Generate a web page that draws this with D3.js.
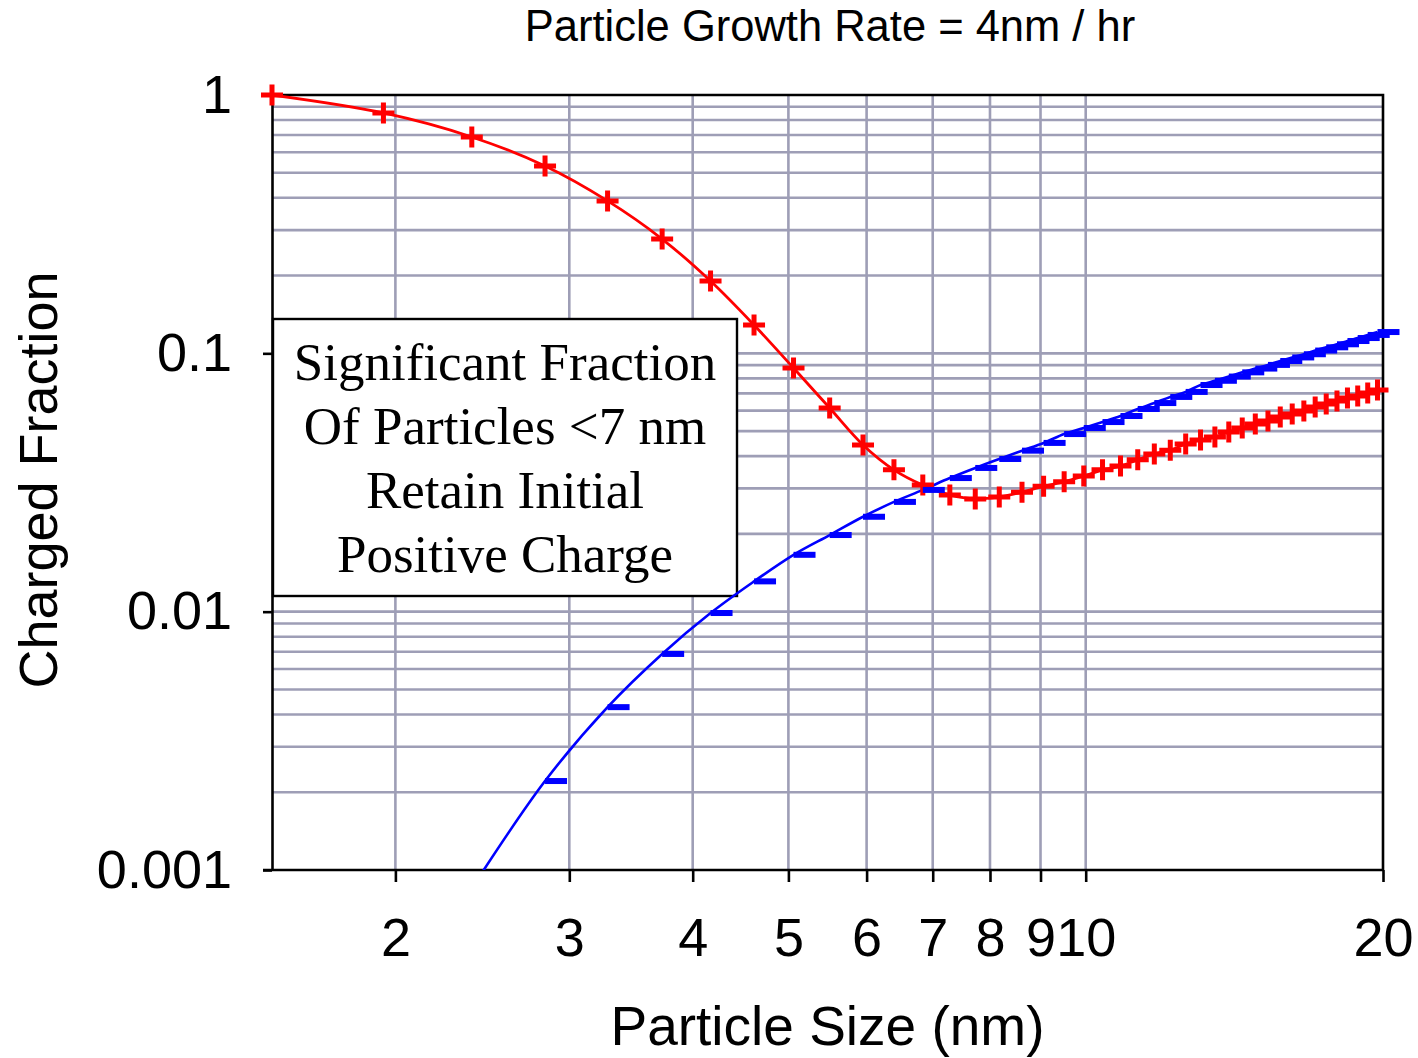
<!DOCTYPE html>
<html>
<head>
<meta charset="utf-8">
<script src="https://cdn.jsdelivr.net/npm/d3@7"></script>
<style>
  body { margin: 0; background: #fff; }
  svg text { font-family: "Liberation Sans", Arial, sans-serif; fill: #000; }
</style>
</head>
<body>
<svg id="chart" width="1418" height="1058"></svg>
<script>
// data
const sizes = [1.5, 1.945, 2.39, 2.835, 3.28, 3.725, 4.17, 4.615, 5.06, 5.505,
               5.95, 6.395, 6.84, 7.285, 7.73, 8.175, 8.62, 9.065, 9.51, 9.955,
               10.4, 10.845, 11.29, 11.735, 12.18, 12.625, 13.07, 13.515, 13.96, 14.405,
               14.85, 15.295, 15.74, 16.185, 16.63, 17.075, 17.52, 17.965, 18.41, 18.855,
               19.3, 19.745];
const retainedFraction = [1.0, 0.852, 0.688, 0.531, 0.389, 0.277, 0.1905, 0.1287, 0.0877, 0.0614,
                          0.0442, 0.0354, 0.0309, 0.0283, 0.0273, 0.0278, 0.0290, 0.0306, 0.0318, 0.0335,
                          0.0354, 0.0366, 0.0387, 0.0408, 0.0422, 0.0446, 0.0462, 0.0474, 0.0496, 0.0514,
                          0.0533, 0.0547, 0.0567, 0.0582, 0.0598, 0.0620, 0.0637, 0.0654, 0.0672, 0.0684,
                          0.0702, 0.0721];
const chargedFraction = [null, null, 0.00085, 0.00221, 0.00427, 0.00686, 0.00988, 0.0131, 0.0166, 0.0198,
                         0.0233, 0.0266, 0.0296, 0.0329, 0.0360, 0.0390, 0.0420, 0.0450, 0.0487, 0.0514,
                         0.0542, 0.0572, 0.0609, 0.0642, 0.0678, 0.0709, 0.0754, 0.0783, 0.0813, 0.0844,
                         0.0873, 0.0902, 0.0934, 0.0964, 0.0992, 0.1025, 0.1055, 0.1084, 0.1116, 0.1146,
                         0.1178, 0.1209];
const xTicks      = [2, 3, 4, 5, 6, 7, 8, 9, 10, 20];
const yTicks      = [1, 0.1, 0.01, 0.001];
const yTickLabels = ["1", "0.1", "0.01", "0.001"];
const titleText   = "Particle Growth Rate = 4nm / hr";
const xTitle      = "Particle Size (nm)";
const yTitle      = "Charged Fraction";
const noteLines   = ["Significant Fraction", "Of Particles <7 nm", "Retain Initial", "Positive Charge"];

// layout
const svg = d3.select("#chart");
const plotL = 272, plotR = 1383, plotT = 95, plotB = 870;
const GRID = "#9e9eb6";

const x = d3.scaleLog().domain([1.5, 20]).range([plotL, plotR]);
const y = d3.scaleLog().domain([0.001, 1]).range([plotB, plotT]);

const red  = sizes.map((s, i) => ({s, v: retainedFraction[i]}));
const blue = sizes.map((s, i) => ({s, v: chargedFraction[i]}));

svg.append("defs").append("clipPath").attr("id", "plot")
  .append("rect")
    .attr("x", plotL).attr("y", plotT)
    .attr("width", plotR - plotL).attr("height", plotB - plotT);

// grid
const grid = svg.append("g")
  .style("stroke", GRID)
  .style("stroke-width", 2.6);

grid.selectAll("line.h")
  .data(y.ticks().filter(d => d > 0.001 && d < 1))
  .join("line")
    .attr("class", "h")
    .attr("x1", plotL).attr("x2", plotR)
    .attr("y1", d => y(d)).attr("y2", d => y(d));

grid.selectAll("line.v")
  .data(xTicks.filter(d => d < 20))
  .join("line")
    .attr("class", "v")
    .attr("x1", d => x(d)).attr("x2", d => x(d))
    .attr("y1", plotT).attr("y2", plotB);

// axes
const yAxis = svg.append("g")
  .attr("transform", `translate(${plotL},0)`)
  .call(d3.axisLeft(y)
    .tickValues(yTicks)
    .tickSize(9)
    .tickSizeOuter(0)
    .tickPadding(31)
    .tickFormat((d, i) => yTickLabels[i]));

const xAxis = svg.append("g")
  .attr("transform", `translate(0,${plotB})`)
  .call(d3.axisBottom(x)
    .tickValues(xTicks)
    .tickSize(12)
    .tickSizeOuter(0)
    .tickPadding(36)
    .tickFormat(d3.format("d")));

[xAxis, yAxis].forEach(g => {
  g.selectAll("path, line").style("stroke", "#000").style("stroke-width", 2.6);
  g.selectAll("text")
    .style("font-size", "54px")
    .style("font-family", '"Liberation Sans", Arial, sans-serif');
});
// bottom line reaches the left tick
xAxis.select(".domain").attr("d", `M${plotL - 9},0H${plotR}`);

// plot border (top, right)
svg.append("path")
  .attr("d", `M${plotL},${plotT}H${plotR}V${plotB}`)
  .style("fill", "none")
  .style("stroke", "#000")
  .style("stroke-width", 2.6);

// note box
const box = svg.append("g");
box.append("rect")
  .attr("x", 273).attr("y", 319)
  .attr("width", 464).attr("height", 277)
  .style("fill", "#fff")
  .style("stroke", "#000")
  .style("stroke-width", 2.4);
box.selectAll("text")
  .data(noteLines)
  .join("text")
    .attr("x", 505)
    .attr("y", (_, i) => 380 + i * 64)
    .attr("text-anchor", "middle")
    .style("font-family", '"Liberation Serif", "Times New Roman", serif')
    .style("font-size", "53px")
    .text(d => d);

// series lines
const line = d3.line()
  .defined(d => d.v != null)
  .x(d => x(d.s))
  .y(d => y(d.v))
  .curve(d3.curveCatmullRom.alpha(0.5));

svg.append("path")
  .datum(red)
  .attr("clip-path", "url(#plot)")
  .attr("d", line)
  .style("fill", "none")
  .style("stroke", "#ff0000")
  .style("stroke-width", 2.8);

svg.append("path")
  .datum(blue)
  .attr("clip-path", "url(#plot)")
  .attr("d", line)
  .style("fill", "none")
  .style("stroke", "#0000ff")
  .style("stroke-width", 2.6);

// markers: plus for red, dash for blue
svg.append("g")
  .selectAll("path")
  .data(red.filter(d => d.v >= 0.001))
  .join("path")
    .attr("transform", d => `translate(${x(d.s)},${y(d.v)})`)
    .attr("d", "M-11,0H11M0,-10.5V10.5")
    .style("stroke", "#ff0000")
    .style("stroke-width", 5);

svg.append("g")
  .selectAll("rect")
  .data(blue.filter(d => d.v != null && d.v >= 0.001))
  .join("rect")
    .attr("x", d => x(d.s))
    .attr("y", d => y(d.v) - 3)
    .attr("width", 22)
    .attr("height", 6)
    .style("fill", "#0000ff");

// titles
svg.append("text")
  .attr("x", 830)
  .attr("y", 41)
  .attr("text-anchor", "middle")
  .style("font-size", "43.5px")
  .text(titleText);

svg.append("text")
  .attr("x", (plotL + plotR) / 2)
  .attr("y", 1045)
  .attr("text-anchor", "middle")
  .style("font-size", "55px")
  .text(xTitle);

svg.append("text")
  .attr("transform", "translate(57,480) rotate(-90)")
  .attr("text-anchor", "middle")
  .style("font-size", "54px")
  .text(yTitle);
</script>
</body>
</html>
